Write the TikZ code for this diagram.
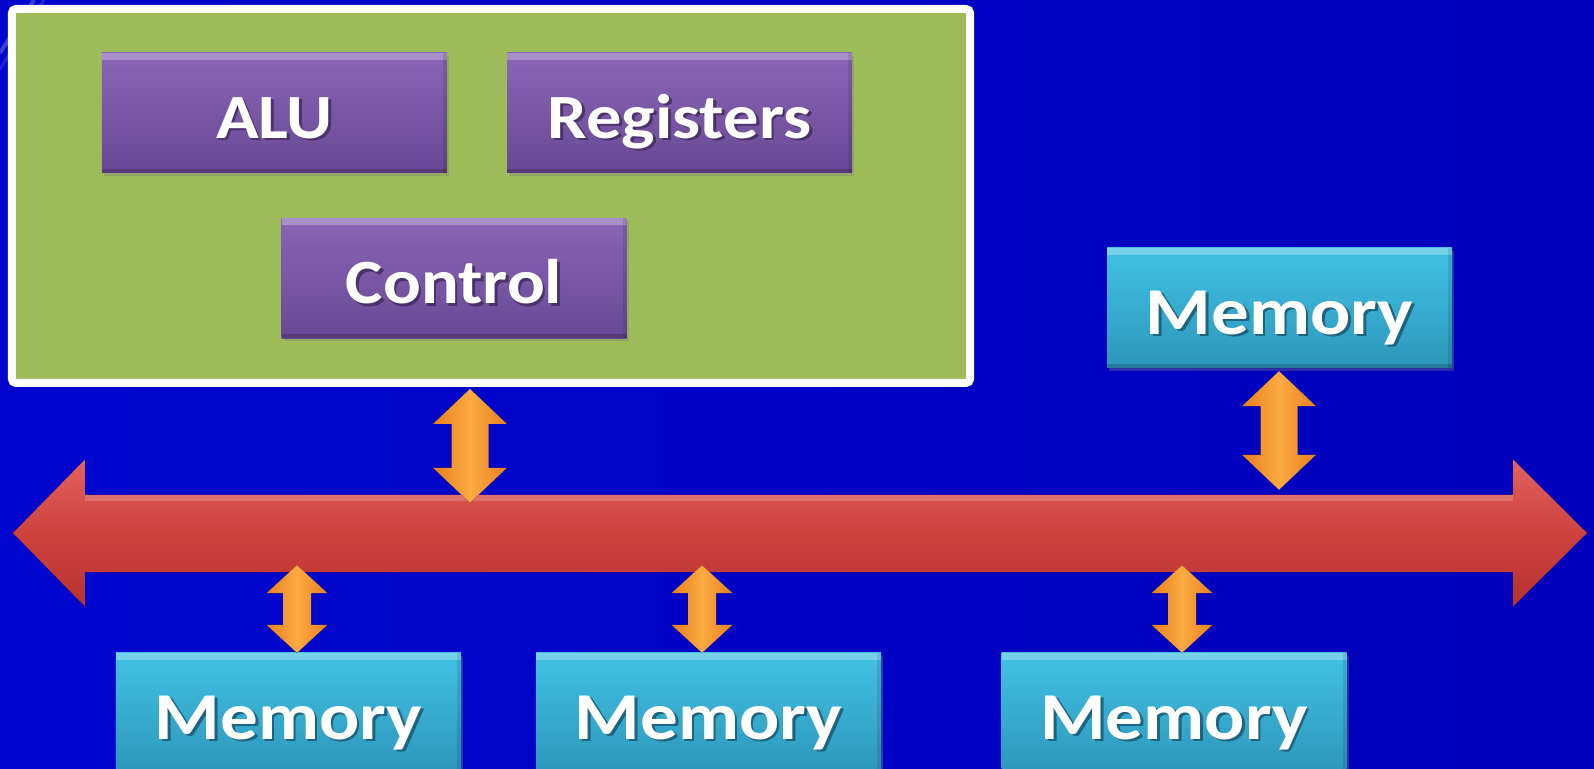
\documentclass[tikz,border=0pt]{standalone}
\usepackage{fontspec}
\usepackage{graphicx}
\setmainfont{Carlito}
\usetikzlibrary{calc,shadows}

\definecolor{bgblueL}{RGB}{0,6,206}
\definecolor{bgblueR}{RGB}{0,0,188}
\definecolor{cpugreen}{RGB}{157,187,89}
\definecolor{purpTop}{RGB}{138,102,182}
\definecolor{purpBot}{RGB}{104,72,148}
\definecolor{purpShadow}{RGB}{74,50,106}
\definecolor{cyanTop}{RGB}{66,194,228}
\definecolor{cyanBot}{RGB}{44,150,186}
\definecolor{cyanShadow}{RGB}{28,100,128}
\definecolor{busTop}{RGB}{226,98,94}
\definecolor{busMid}{RGB}{206,66,62}
\definecolor{busBot}{RGB}{184,50,46}
\definecolor{orEdge}{RGB}{232,128,32}
\definecolor{orMid}{RGB}{252,170,66}

% white label with a soft offset shadow, slightly widened
\newcommand\chiplabel[2]{\scalebox{1.12}[1]{\rlap{\kern2.5bp\raisebox{-2.5bp}{\textcolor{#1}{#2}}}\textcolor{white}{#2}}}

% vertical two-headed arrow between two points: shaft half-width, head half-width, head length
\newcommand\vlink[5]{%
  \fill[left color=orEdge, right color=orEdge, middle color=orMid]
    let \p1=(#1), \p2=(#2) in
    (\x1,\y1) -- (\x1+#4,\y1-#5) -- (\x1+#3,\y1-#5) -- (\x2+#3,\y2+#5)
    -- (\x2+#4,\y2+#5) -- (\x2,\y2) -- (\x2-#4,\y2+#5) -- (\x2-#3,\y2+#5)
    -- (\x1-#3,\y1-#5) -- (\x1-#4,\y1-#5) -- cycle;}

\tikzset{
  bevel/.style={path picture={
      \fill[white,opacity=0.28] (path picture bounding box.north west)
        rectangle ([yshift=-7bp]path picture bounding box.north east);
      \fill[black,opacity=0.18] (path picture bounding box.south west)
        rectangle ([yshift=4bp]path picture bounding box.south east);
      \fill[black,opacity=0.10] (path picture bounding box.south east)
        rectangle ([xshift=-4bp]path picture bounding box.north east);}},
  unitbox/.style={minimum width=345bp, minimum height=120bp, inner sep=0pt,
      text depth=0pt, bevel,
      drop shadow={shadow xshift=2bp, shadow yshift=-3bp, opacity=0.35}},
  cpart/.style={unitbox, top color=purpTop, bottom color=purpBot,
      text height=51bp, font=\fontsize{63bp}{70bp}\selectfont\bfseries},
  membox/.style={unitbox, top color=cyanTop, bottom color=cyanBot,
      text height=53bp, font=\fontsize{67bp}{74bp}\selectfont\bfseries},
  cpubox/.style={draw=white, line width=8bp, fill=cpugreen, rounded corners=4bp,
      minimum width=958bp, minimum height=374bp, inner sep=0pt},
  shaft/.style={minimum width=1428bp, minimum height=77bp, inner sep=0pt},
}

\begin{document}
\begin{tikzpicture}[x=1bp,y=1bp]
  \useasboundingbox (0,0) rectangle (1594,769);
  \clip (0,0) rectangle (1594,769);

  % background
  \fill[left color=bgblueL, right color=bgblueR] (0,0) rectangle (1594,769);
  \draw[white,opacity=0.22,line width=4bp] (0,716) -- (34,769);
  \draw[white,opacity=0.12,line width=3bp] (0,700) -- (44,769);

  % processor
  \node[cpubox] (cpu) at (491,573) {};
  \node[cpart] (alu)  at (274.5,656) {\chiplabel{purpShadow}{ALU}};
  \node[cpart] (regs) at (679.5,656) {\chiplabel{purpShadow}{Registers}};
  \node[cpart] (ctrl) at (454,490.5) {\chiplabel{purpShadow}{Control}};

  % memories
  \node[membox] (memtop) at (1279.5,461) {\chiplabel{cyanShadow}{Memory}};
  \node[membox] (mema)   at (288.5,56)   {\chiplabel{cyanShadow}{Memory}};
  \node[membox] (memb)   at (708.5,56)   {\chiplabel{cyanShadow}{Memory}};
  \node[membox] (memc)   at (1174,56)    {\chiplabel{cyanShadow}{Memory}};

  % system bus
  \node[shaft] (bus) at (799,235.5) {};
  \fill[top color=busTop, bottom color=busBot, middle color=busMid]
    (13,236) -- (85,309.5) -- (bus.north west) -- (bus.north east)
    -- (1513,309.5) -- (1587,236) -- (1513,162.5) -- (bus.south east)
    -- (bus.south west) -- (85,162.5) -- cycle;
  \fill[white,opacity=0.18] (bus.north west) rectangle ([yshift=-6bp]bus.north east);

  % link positions along the bus
  \coordinate (xc) at (470,0);
  \coordinate (xt) at (1279,0);
  \coordinate (xa) at (297,0);
  \coordinate (xb) at (702,0);
  \coordinate (xd) at (1182,0);

  % links
  \vlink{$(cpu.south -| xc)+(0,-2)$}{$(bus.north -| xc)+(0,-8)$}{18.5bp}{37bp}{35bp}
  \vlink{$(memtop.south -| xt)+(0,-3)$}{$(bus.north -| xt)+(0,5)$}{18.5bp}{37bp}{35bp}
  \vlink{$(bus.south -| xa)+(0,7)$}{mema.north -| xa}{14bp}{30.5bp}{28bp}
  \vlink{$(bus.south -| xb)+(0,7)$}{memb.north -| xb}{14bp}{30.5bp}{28bp}
  \vlink{$(bus.south -| xd)+(0,7)$}{memc.north -| xd}{14bp}{30.5bp}{28bp}
\end{tikzpicture}
\end{document}
